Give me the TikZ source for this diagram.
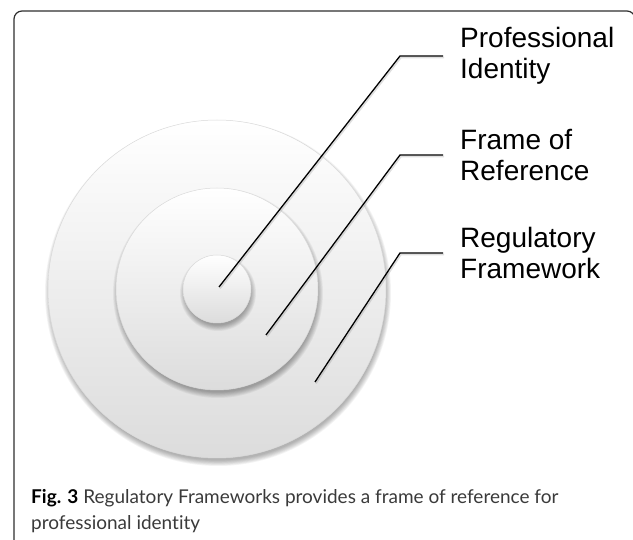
\documentclass[tikz,border=0pt]{standalone}
\usepackage{fontspec}
\newfontfamily\labelfont{Liberation Sans}
\newfontfamily\capfont[Ligatures={NoCommon,NoRequired,NoContextual}]{Lato}
\usepackage{tikz}
\usetikzlibrary{calc}
\definecolor{framegray}{HTML}{2E2E2E}
\definecolor{captext}{HTML}{3A3A3A}
\definecolor{rimgray}{HTML}{DADADA}
\definecolor{discbot}{HTML}{DCDCDC}
\tikzset{disc/.style={top color=white, bottom color=discbot, draw=rimgray, line width=.5pt}}
\tikzset{leader/.style={line width=1.3pt, black,
  preaction={draw, gray, opacity=.25, line width=1.6pt, transform canvas={shift={(1pt,-1.5pt)}}}}}
\tikzset{tag/.style={anchor=west, align=left, inner xsep=17pt, inner ysep=0pt,
  font=\labelfont\fontsize{28}{31}\selectfont}}

\begin{document}
\begin{tikzpicture}[x=1pt, y=-1pt]
\useasboundingbox (0,0) rectangle (633,540);

\begin{scope}
\clip (0,0) rectangle (633,540);
\draw[framegray, line width=1.2pt, rounded corners=8pt] (14,560) -- (14,11) -- (635,11) -- (635,560);
\end{scope}

\coordinate (ctr) at (217,289);

% discs, outside in
\foreach \r in {169,101,34} {
  \foreach \s in {0,...,7}
    \fill[black, opacity=.045] ($(ctr)+(1,4)$) circle ({\r+4-\s*.8});
  \shade[disc] (ctr) circle (\r);
}

\coordinate (piend) at (219,287);
\coordinate (frend) at (266,335);
\coordinate (rfend) at (315,382);

\node[tag] (pi) at (443,56) {Professional\\Identity};
\node[tag] (fr) at (443,155) {Frame of\\Reference};
\node[tag] (rf) at (443,253) {Regulatory\\Framework};

\draw[leader] (pi.west) -- ++(-43,0) -- (piend);
\draw[leader] (fr.west) -- ++(-43,0) -- (frend);
\draw[leader] (rf.west) -- ++(-43,0) -- (rfend);

\node[anchor=north west, inner sep=0pt, align=left, text=captext,
  font=\capfont\fontsize{19}{26}\selectfont] (cap) at (31,489.5)
  {{\bfseries\color{black}Fig. 3} Regulatory Frameworks provides a frame of reference for\\professional identity};

\end{tikzpicture}
\end{document}
